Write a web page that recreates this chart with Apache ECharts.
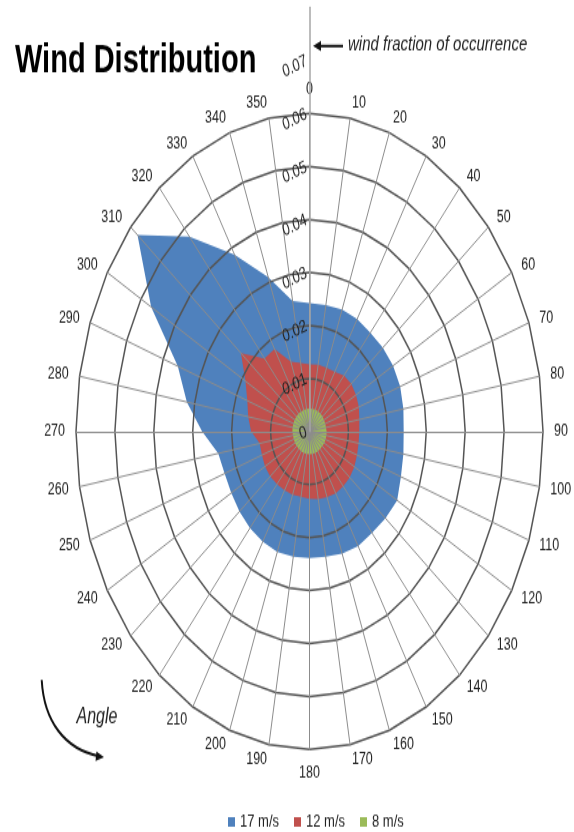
<!DOCTYPE html>
<html><head><meta charset="utf-8">
<script src="https://cdn.jsdelivr.net/npm/echarts@6/dist/echarts.min.js"></script>
<style>
html,body{margin:0;padding:0;background:#fff;overflow:hidden;width:574px;height:832px}
#c{width:574px;height:611px;transform:scaleY(1.3619);transform-origin:0 0;}
</style>
</head><body><div id="c"></div>
<script>
// Wind direction (degrees, clockwise from north)
const angles = [0,10,20,30,40,50,60,70,80,90,100,110,120,130,140,150,160,170,180,190,200,210,220,230,240,250,260,270,280,290,300,310,320,330,340,350];
// Fraction of occurrence per direction
const speed17 = [0.0242,0.0242,0.0245,0.0245,0.0243,0.0246,0.0248,0.0248,0.0245,0.0242,0.0245,0.0250,0.0260,0.0255,0.0250,0.0250,0.0245,0.0240,0.0239,0.0240,0.0242,0.0240,0.0238,0.0235,0.0232,0.0232,0.0238,0.0276,0.0320,0.0360,0.0470,0.0577,0.0480,0.0385,0.0310,0.0250];
const speed12 = [0.0127,0.0128,0.0128,0.0130,0.0138,0.0140,0.0138,0.0135,0.0130,0.0128,0.0128,0.0130,0.0133,0.0135,0.0135,0.0135,0.0132,0.0130,0.0127,0.0125,0.0127,0.0128,0.0130,0.0132,0.0132,0.0130,0.0130,0.0150,0.0160,0.0170,0.0190,0.0230,0.0180,0.0180,0.0140,0.0131];
const speed8  = [0.0043,0.0043,0.0044,0.0044,0.0044,0.0044,0.0043,0.0043,0.0043,0.0044,0.0044,0.0044,0.0044,0.0043,0.0043,0.0043,0.0043,0.0043,0.0043,0.0043,0.0043,0.0043,0.0043,0.0043,0.0043,0.0043,0.0043,0.0044,0.0044,0.0044,0.0044,0.0044,0.0044,0.0043,0.0043,0.0043];
const seriesNames = ['17 m/s','12 m/s','8 m/s'];
const seriesColors = ['#4F81BD','#C0504D','#9BBB59'];
const radialTicks = [0,0.01,0.02,0.03,0.04,0.05,0.06,0.07];

// radar places indicators counter-clockwise: reorder so angles run clockwise
const order = [0];
for (let i = angles.length - 1; i >= 1; i--) order.push(i);
const pick = arr => order.map(i => arr[i]);
const allSeries = [speed17, speed12, speed8];

const CX = 309.5, CY = 316.8, R = 233.5;
const chart = echarts.init(document.getElementById('c'));
chart.setOption({
  animation: false,
  textStyle: {fontFamily: 'Liberation Sans'},
  title: {text: 'Wind Distribution', left: 10, top: 25,
    textStyle: {fontFamily: 'Liberation Sans', fontWeight: 'bold', fontSize: 29, color: '#000'}},
  legend: {data: seriesNames, left: 228, top: 597, itemWidth: 7, itemHeight: 7, itemGap: 15, icon: 'rect', padding: 0,
    textStyle: {fontSize: 13, color: '#222'}},
  radar: {
    z: 5,
    center: [CX, CY], radius: R, startAngle: 90, shape: 'polygon', splitNumber: 6,
    indicator: order.map(i => ({name: String(angles[i]), min: 0, max: 0.06})),
    axisName: {color: '#222', fontSize: 12.5},
    nameGap: 11,
    axisLine: {lineStyle: {color: '#8c8c8c', width: 1}},
    splitLine: {lineStyle: {color: '#555', width: 1.5}},
    splitArea: {show: false}
  },
  polar: {center: [CX, CY], radius: R * 0.08 / 0.06},
  angleAxis: {show: false, startAngle: 90, min: 0, max: 360},
  radiusAxis: {
    z: 6, min: 0, max: 0.08, interval: 0.01,
    axisLine: {lineStyle: {color: '#a6a6a6', width: 1.5}},
    axisTick: {show: false}, splitLine: {show: false},
    axisLabel: {rotate: 21, fontSize: 13, color: '#222', margin: 3,
      formatter: v => { const t = radialTicks.find(x => Math.abs(x - v) < 1e-9); return t === undefined ? '' : String(t); }}
  },
  graphic: [
    {type: 'text', x: 348, y: 33, style: {text: 'wind fraction of occurrence', fontStyle: 'italic', fontSize: 15, fontFamily: 'Liberation Sans', fill: '#222', verticalAlign: 'middle'}},
    {type: 'line', shape: {x1: 343, y1: 33.8, x2: 318, y2: 33.8}, style: {stroke: '#111', lineWidth: 2}},
    {type: 'polygon', shape: {points: [[313, 33.8], [321, 30], [321, 37.6]]}, style: {fill: '#111'}},
    {type: 'text', x: 97, y: 527, style: {text: 'Angle', fontStyle: 'italic', fontSize: 16, fontFamily: 'Liberation Sans', fill: '#222', align: 'center', verticalAlign: 'middle'}},
    {type: 'bezierCurve', shape: {x1: 41.7, y1: 499.3, cpx1: 44, cpy1: 530, cpx2: 65, cpy2: 550, x2: 99, y2: 555.3}, style: {stroke: '#111', lineWidth: 2, fill: null}},
    {type: 'polygon', shape: {points: [[104, 556], [96.5, 551.8], [95.5, 558.8]]}, style: {fill: '#111'}}
  ],
  series: [{
    type: 'radar', z: 2, symbol: 'none',
    data: allSeries.map((arr, k) => ({
      name: seriesNames[k], value: pick(arr),
      itemStyle: {color: seriesColors[k]},
      lineStyle: {width: 0, color: seriesColors[k]},
      areaStyle: {color: seriesColors[k], opacity: 1}
    }))
  }]
});
</script></body></html>
